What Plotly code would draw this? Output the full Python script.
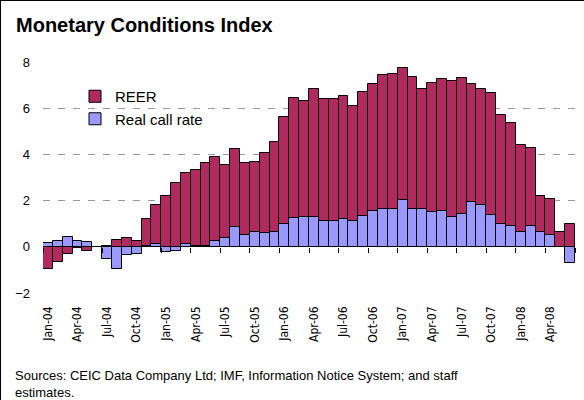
import pandas as pd
import plotly.graph_objects as go

# Meses jan/2004 a jun/2008
months = list(pd.date_range("2004-01-01", periods=54, freq="MS").strftime("%b-%y"))

call_rate = [0.17, 0.26, 0.43, 0.25, 0.19, 0.0, -0.53, -0.98, -0.36, -0.29,
             0.03, 0.10, -0.23, -0.16, 0.10, 0.03, 0.04, 0.26, 0.40, 0.87,
             0.49, 0.66, 0.59, 0.62, 0.98, 1.26, 1.31, 1.31, 1.10, 1.11,
             1.21, 1.13, 1.34, 1.57, 1.65, 1.65, 2.02, 1.62, 1.65, 1.50,
             1.53, 1.31, 1.43, 1.96, 1.83, 1.37, 0.98, 0.92, 0.66, 0.92,
             0.65, 0.49, 0.0, -0.69]

reer = [-0.98, -0.65, -0.33, -0.05, -0.20, 0.0, 0.03, 0.30, 0.36, 0.26,
        1.18, 1.73, 2.20, 2.78, 3.08, 3.29, 3.60, 3.61, 3.14, 3.35,
        3.15, 2.99, 3.45, 3.93, 4.65, 5.19, 5.00, 5.50, 5.28, 5.27,
        5.34, 4.95, 5.34, 5.46, 5.80, 5.85, 5.70, 5.71, 5.20, 5.59,
        5.74, 5.85, 5.86, 5.10, 5.00, 5.30, 4.72, 4.46, 3.76, 3.35,
        1.57, 1.56, 0.62, 0.98]

tick_labels = months[::3]
tick_marks = [i - 0.5 for i in range(0, len(months) + 1, 3)]

FONT = "Liberation Sans, Arial, sans-serif"
NARROW = "Liberation Sans Narrow, Arial Narrow, DejaVu Sans Condensed, sans-serif"

fig = go.Figure()

fig.add_trace(go.Bar(
    x=months, y=call_rate, name="Real call rate",
    marker=dict(color="#9999FF", line=dict(color="black", width=1)),
))
fig.add_trace(go.Bar(
    x=months, y=reer, name="REER",
    marker=dict(color="#B02A60", line=dict(color="black", width=1)),
))
# eixo auxiliar so para as marcas na linha do zero
fig.add_trace(go.Scatter(x=[], y=[], xaxis="x2", showlegend=False, hoverinfo="skip"))

# a moldura (CSS) ocupa 1px em cima e à esquerda
W, H = 583, 399
L, R, T, B = 42, 9, 61, 107
pw, ph = W - L - R, H - T - B

def px_x(p):
    return (p - L) / pw

def px_y(p):
    return (H - B - p) / ph

fig.update_layout(
    width=W, height=H,
    margin=dict(l=L, r=R, t=T, b=B),
    barmode="relative",
    bargap=0,
    plot_bgcolor="white",
    paper_bgcolor="white",
    font=dict(family=FONT, color="black", size=13),
    title=dict(
        text="<b>Monetary Conditions Index</b>",
        font=dict(family=FONT, size=20, color="black"),
        x=15 / W, xref="container", xanchor="left",
        y=1 - 24 / H, yref="container", yanchor="middle",
    ),
    legend=dict(
        x=px_x(74), y=px_y(79), xanchor="left", yanchor="top",
        traceorder="reversed",
        font=dict(family=FONT, size=15, color="black"),
        bgcolor="rgba(0,0,0,0)",
    ),
    xaxis=dict(
        type="category",
        range=[-0.5, len(months) - 0.5],
        tickvals=tick_labels, ticktext=tick_labels,
        tickangle=-90,
        ticks="", showgrid=False, showline=False, zeroline=False,
        tickfont=dict(family=NARROW, size=12, color="black"),
        ticklabelstandoff=10,
    ),
    xaxis2=dict(
        overlaying="x", anchor="free", position=0.2,
        range=[-0.5, len(months) - 0.5],
        tickvals=tick_marks, ticks="outside", ticklen=5, tickcolor="black",
        showticklabels=False, showgrid=False, zeroline=False, showline=False,
    ),
    yaxis=dict(
        range=[-2, 8], dtick=2,
        showgrid=True, gridcolor="#999999", gridwidth=1, griddash="7px,8px",
        zeroline=True, zerolinecolor="#808080", zerolinewidth=1,
        ticks="", ticklabelstandoff=12,
        tickfont=dict(family=FONT, size=13, color="black"),
    ),
    showlegend=True,
)

fig.add_annotation(
    text="Sources: CEIC Data Company Ltd; IMF, Information Notice System; and staff<br>estimates.",
    xref="paper", yref="paper", x=px_x(12), y=px_y(365),
    xanchor="left", yanchor="top", align="left", showarrow=False,
    font=dict(family=FONT, size=13, color="black"),
)

# body sem margem e moldura preta só em cima e à esquerda
js = (
    "document.body.style.margin='0';"
    "var d=document.querySelector('.plotly-graph-div');"
    "d.style.borderTop='1px solid black';"
    "d.style.borderLeft='1px solid black';"
)
fig.write_html("out.html", post_script=js, config={"displayModeBar": False})
